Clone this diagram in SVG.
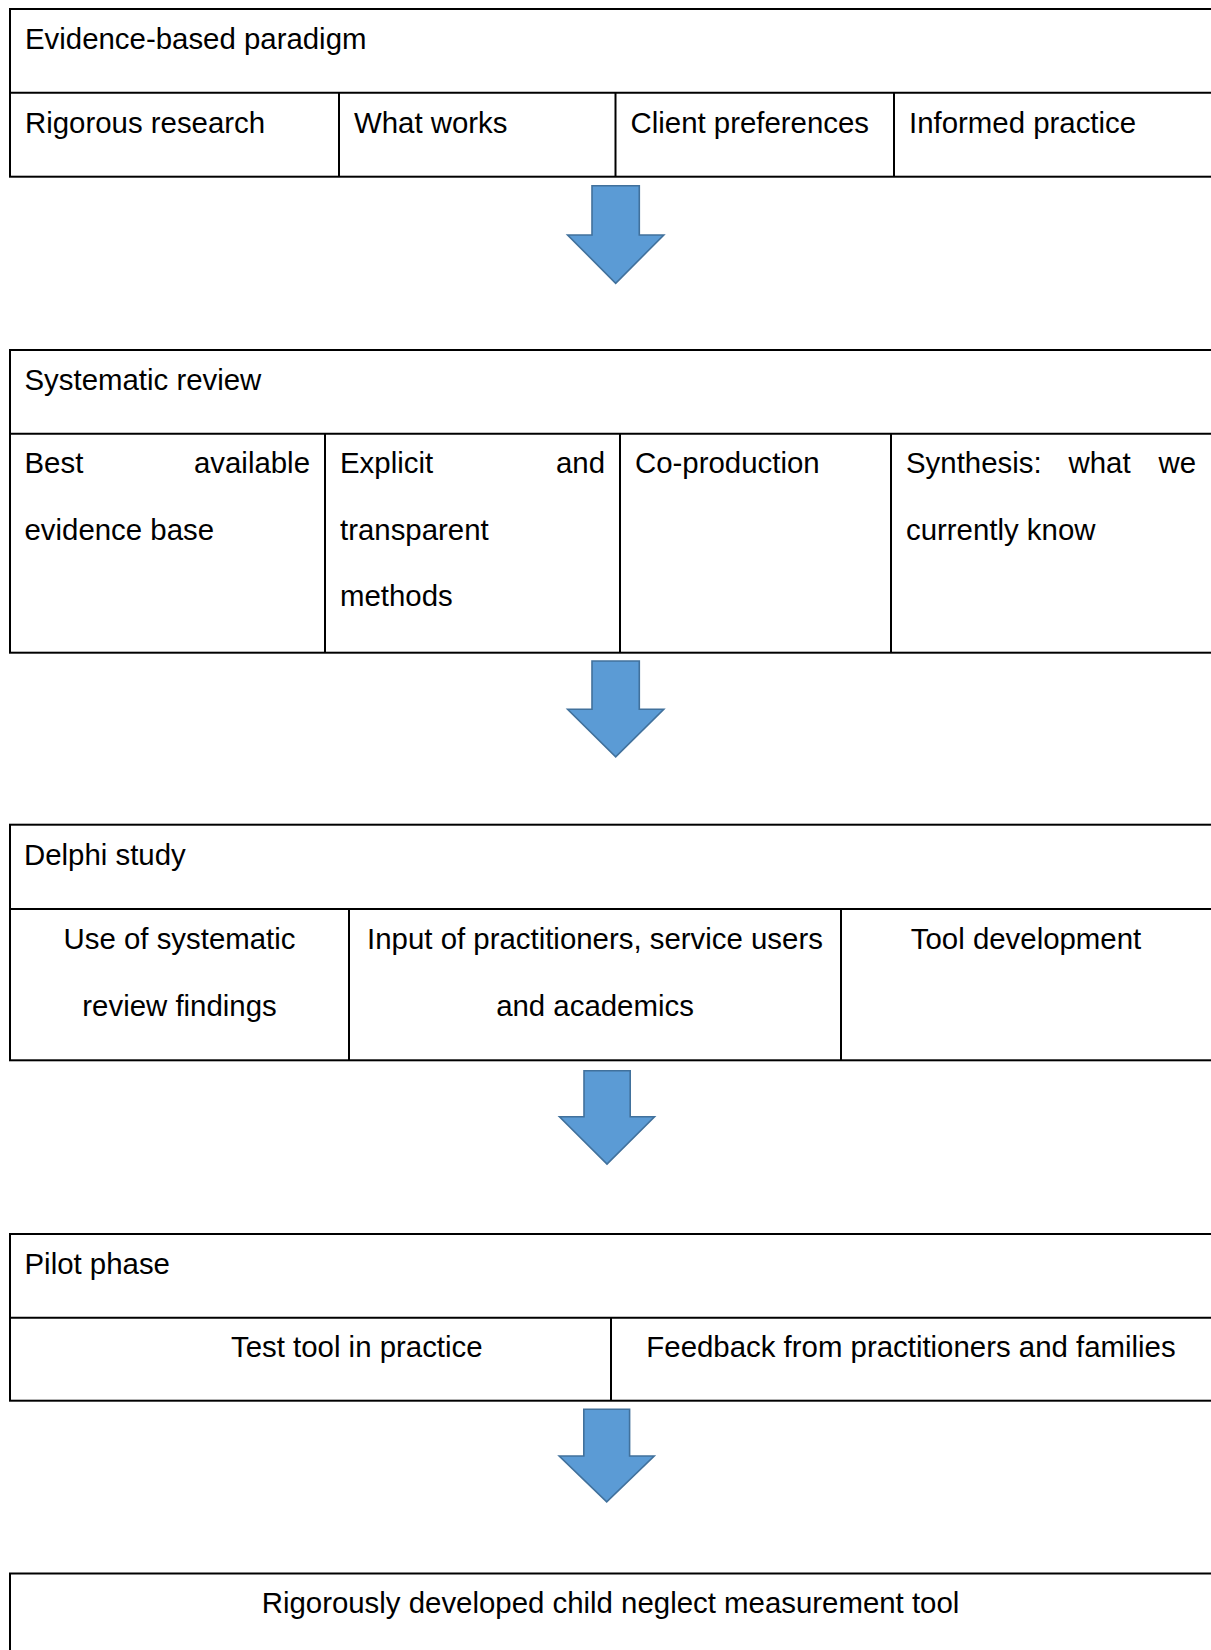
<svg xmlns="http://www.w3.org/2000/svg" width="1211" height="1650" viewBox="0 0 1211 1650">
<style>
  .cell { fill: #ffffff; stroke: #000000; stroke-width: 2; }
  .ln { stroke: #000000; stroke-width: 2; fill: none; }
  .t { font-family: "Liberation Sans", Arial, sans-serif; font-size: 29.4px; fill: #000000; }
  .m { text-anchor: middle; }
  .e { text-anchor: end; }
  .arrow { fill: #5B9BD5; stroke: #41719C; stroke-width: 1.6; stroke-linejoin: miter; }
</style>
<rect x="0" y="0" width="1211" height="1650" fill="#ffffff"/>

<g id="evidence-based-paradigm">
  <rect class="cell" x="10" y="9" width="1210" height="167.7"/>
  <line class="ln" x1="10" y1="92.7" x2="1211" y2="92.7"/>
  <line class="ln" x1="339" y1="92.7" x2="339" y2="176.7"/>
  <line class="ln" x1="615.5" y1="92.7" x2="615.5" y2="176.7"/>
  <line class="ln" x1="894" y1="92.7" x2="894" y2="176.7"/>
  <text class="t" x="25" y="49.3">Evidence-based paradigm</text>
  <text class="t" x="25" y="132.6">Rigorous research</text>
  <text class="t" x="354" y="132.6">What works</text>
  <text class="t" x="630.5" y="132.6">Client preferences</text>
  <text class="t" x="909" y="132.6">Informed practice</text>
</g>

<g id="systematic-review">
  <rect class="cell" x="10" y="350" width="1210" height="302.7"/>
  <line class="ln" x1="10" y1="433.8" x2="1211" y2="433.8"/>
  <line class="ln" x1="325" y1="433.8" x2="325" y2="652.7"/>
  <line class="ln" x1="620" y1="433.8" x2="620" y2="652.7"/>
  <line class="ln" x1="891" y1="433.8" x2="891" y2="652.7"/>
  <text class="t" x="24.5" y="389.8">Systematic review</text>
  <text class="t" x="24.5" y="472.8">Best</text>
  <text class="t e" x="310" y="472.8">available</text>
  <text class="t" x="24.5" y="539.6">evidence base</text>
  <text class="t" x="340" y="472.8">Explicit</text>
  <text class="t e" x="605" y="472.8">and</text>
  <text class="t" x="340" y="539.6">transparent</text>
  <text class="t" x="340" y="606.4">methods</text>
  <text class="t" x="635" y="472.8">Co-production</text>
  <text class="t" x="906" y="472.8">Synthesis:</text>
  <text class="t" x="1068.5" y="472.8">what</text>
  <text class="t e" x="1196" y="472.8">we</text>
  <text class="t" x="906" y="539.6">currently know</text>
</g>

<g id="delphi-study">
  <rect class="cell" x="10" y="824.7" width="1210" height="235.6"/>
  <line class="ln" x1="10" y1="909" x2="1211" y2="909"/>
  <line class="ln" x1="349" y1="909" x2="349" y2="1060.3"/>
  <line class="ln" x1="841" y1="909" x2="841" y2="1060.3"/>
  <text class="t" x="24" y="864.8">Delphi study</text>
  <text class="t m" x="179.5" y="948.8">Use of systematic</text>
  <text class="t m" x="179.5" y="1015.8">review findings</text>
  <text class="t m" x="595" y="948.8">Input of practitioners, service users</text>
  <text class="t m" x="595" y="1015.8">and academics</text>
  <text class="t m" x="1026" y="948.8">Tool development</text>
</g>

<g id="pilot-phase">
  <rect class="cell" x="10" y="1234" width="1210" height="166.7"/>
  <line class="ln" x1="10" y1="1317.7" x2="1211" y2="1317.7"/>
  <line class="ln" x1="611" y1="1317.7" x2="611" y2="1400.7"/>
  <text class="t" x="24.5" y="1273.8">Pilot phase</text>
  <text class="t" x="231" y="1357.3">Test tool in practice</text>
  <text class="t m" x="911" y="1357.3">Feedback from practitioners and families</text>
</g>

<g id="measurement-tool">
  <rect class="cell" x="10" y="1573.5" width="1210" height="200"/>
  <text class="t m" x="610.5" y="1613.3">Rigorously developed child neglect measurement tool</text>
</g>

<g id="connectors">
  <path class="arrow" d="M592,185.7 H639.3 V235 H663.8 L615.7,283.3 L567.6,235 H592 Z"/>
  <path class="arrow" d="M592,661 H639.3 V709.3 H663.8 L615.7,756.8 L567.6,709.3 H592 Z"/>
  <path class="arrow" d="M584,1070.7 H630.2 V1116.8 H654.5 L607,1164 L559.5,1116.8 H584 Z"/>
  <path class="arrow" d="M583.8,1409.3 H629.6 V1456 H654.2 L606.7,1501.8 L559.2,1456 H583.8 Z"/>
</g>
</svg>
